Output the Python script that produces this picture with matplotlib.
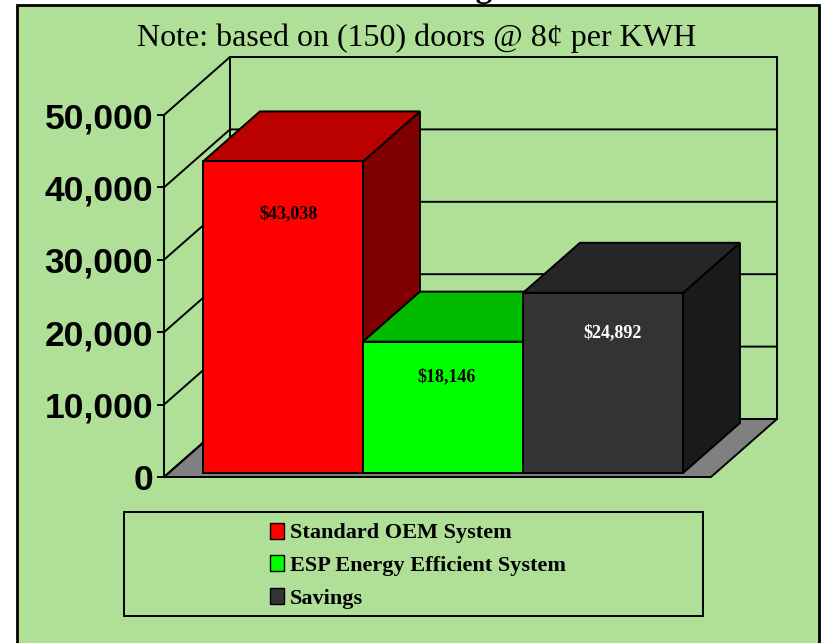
import matplotlib
matplotlib.use("Agg")
import matplotlib.pyplot as plt
from matplotlib.patches import Polygon, Rectangle, Patch

categories = ["Standard OEM System", "ESP Energy Efficient System", "Savings"]
values = [43038, 18146, 24892]
labels = ["$43,038", "$18,146", "$24,892"]
front_colors = ["#FF0000", "#00FF00", "#333333"]
top_colors = ["#BB0000", "#00BB00", "#262626"]
side_colors = ["#7F0000", "#007F00", "#1A1A1A"]
label_colors = ["black", "black", "white"]
yticks = [0, 10000, 20000, 30000, 40000, 50000]
title = "Annual Savings"
note = "Note: based on (150) doors @ 8\u00a2 per KWH"

W, H = 821, 643
BG = "#B0E098"
SERIF = ["Liberation Serif", "DejaVu Serif"]
SANS = ["Liberation Sans", "DejaVu Sans"]
LW = 1.4

# scale of the chart in pixels
x_px = 160
y_px = 0.00724
x0_px = 198.5
y0_px = 477

# oblique depth of the box, full depth is the side wall
depth_x = 66 / x_px
depth_y = 58 / y_px
bar_front = 4 / 58
bar_back = 54 / 58


def proj(x, v, d):
    return (x + d * depth_x, v + d * depth_y)


def px(x, y):
    return (x / W, 1 - y / H)


fig = plt.figure(figsize=(W / 100, H / 100), dpi=100, facecolor="white")
ax = fig.add_axes([0, 0, 1, 1])
ax.set_xlim(-x0_px / x_px, (W - x0_px) / x_px)
ax.set_ylim((y0_px - H) / y_px, y0_px / y_px)
ax.axis("off")

# green panel with black border
fig.patches.append(Rectangle(px(17, 660), 802 / W, 655 / H, transform=fig.transFigure,
                             facecolor=BG, edgecolor="black", linewidth=2.0, zorder=-5))

x_left = (164 - x0_px) / x_px
x_right = (711 - x0_px) / x_px

# floor
ax.add_patch(Polygon([proj(x_left, 0, 0), proj(x_right, 0, 0), proj(x_right, 0, 1), proj(x_left, 0, 1)],
                     facecolor="#808080", edgecolor="black", linewidth=LW, zorder=1))

# walls and grid
for t in yticks:
    a = proj(x_left, t, 0)
    b = proj(x_left, t, 1)
    c = proj(x_right, t, 1)
    ax.plot([a[0], b[0], c[0]], [a[1], b[1], c[1]], color="black", lw=LW, zorder=2, solid_joinstyle="miter")
    ax.plot([a[0] - 6 / x_px, a[0]], [t, t], color="black", lw=LW, zorder=2)
    ax.text(a[0] - 11 / x_px, t, f"{t:,}", ha="right", va="center_baseline", family=SANS,
            fontweight="bold", fontsize=25.5, color="black", zorder=6)

for x in [x_left, x_right]:
    a = proj(x, 0, 1)
    b = proj(x, yticks[-1], 1)
    ax.plot([a[0], b[0]], [a[1], b[1]], color="black", lw=LW, zorder=2)
ax.plot([x_left, x_left], [0, yticks[-1]], color="black", lw=LW, zorder=2)

# bars
for i, v in enumerate(values):
    x1, x2 = i, i + 1
    front = [proj(x1, 0, bar_front), proj(x2, 0, bar_front), proj(x2, v, bar_front), proj(x1, v, bar_front)]
    top = [proj(x1, v, bar_front), proj(x2, v, bar_front), proj(x2, v, bar_back), proj(x1, v, bar_back)]
    side = [proj(x2, 0, bar_front), proj(x2, 0, bar_back), proj(x2, v, bar_back), proj(x2, v, bar_front)]
    z = 3 + i * 0.1
    ax.add_patch(Polygon(side, facecolor=side_colors[i], edgecolor="black", linewidth=LW, zorder=z))
    ax.add_patch(Polygon(top, facecolor=top_colors[i], edgecolor="black", linewidth=LW, zorder=z))
    ax.add_patch(Polygon(front, facecolor=front_colors[i], edgecolor="black", linewidth=LW, zorder=z))

# value labels
label_pos = [(288, 214), (447, 377), (613, 333)]
for i, lab in enumerate(labels):
    fig.text(*px(*label_pos[i]), lab, ha="center", va="center", family=SERIF, fontweight="bold",
             fontsize=13, color=label_colors[i], zorder=10)

# clipped title and note
fig.text(*px(394, -3), title, ha="center", va="baseline", family=SERIF, fontweight="bold",
         fontsize=24, color="black")
fig.text(*px(417, 46), note, ha="center", va="baseline", family=SERIF, fontsize=23, color="black")

# legend frame and legend
fig.patches.append(Rectangle(px(124, 616), 579 / W, 104 / H, transform=fig.transFigure,
                             facecolor="none", edgecolor="black", linewidth=LW, zorder=5))
handles = [Patch(facecolor=c, edgecolor="black", linewidth=1.0) for c in front_colors]
fig.legend(handles, categories, loc="upper left", bbox_to_anchor=px(263.5, 516), frameon=False,
           prop={"family": SERIF, "weight": "bold", "size": 16}, labelspacing=0.54,
           handlelength=0.63, handleheight=0.72, handletextpad=0.27, borderpad=0.3, borderaxespad=0)

fig.savefig("out.png", dpi=100, facecolor="white")
